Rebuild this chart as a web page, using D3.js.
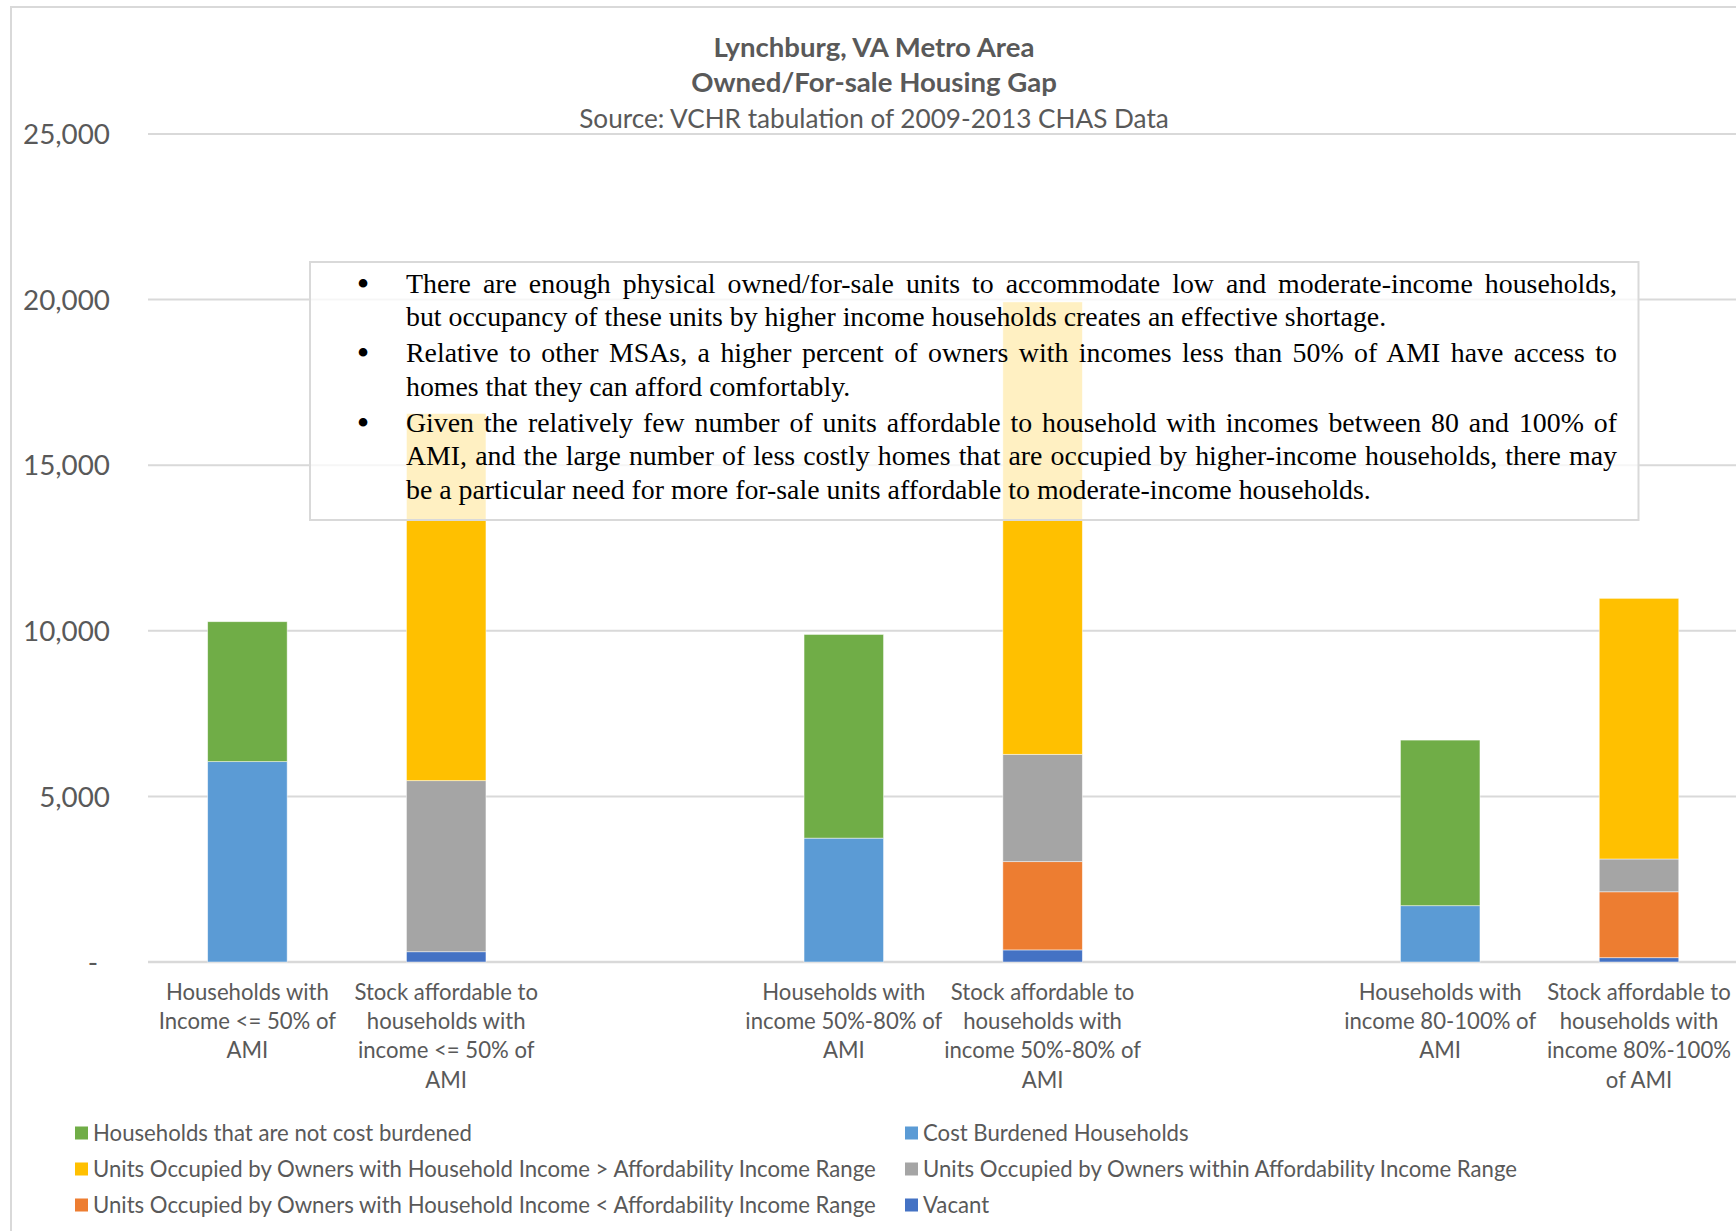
<!DOCTYPE html>
<html><head><meta charset="utf-8">
<script src="https://cdn.jsdelivr.net/npm/d3@7"></script>
<style>html,body{margin:0;padding:0;background:#fff;overflow:hidden}</style>
</head><body>
<svg id="chart" width="1736" height="1231"></svg>
<script>
// ---------------- DATA ----------------
const titleLines = ["Lynchburg, VA Metro Area", "Owned/For-sale Housing Gap"];
const subtitle = "Source: VCHR tabulation of 2009-2013 CHAS Data";

// 9 category slots (blank slots act as spacers, as in the original chart)
const categories = ["hh50", "stock50", "gap1", "hh80", "stock80", "gap2", "hh100", "stock100", "gap3"];
const categoryLabels = [
  ["Households with", "Income <= 50% of", "AMI"],
  ["Stock affordable to", "households with", "income <= 50% of", "AMI"],
  [],
  ["Households with", "income 50%-80% of", "AMI"],
  ["Stock affordable to", "households with", "income 50%-80% of", "AMI"],
  [],
  ["Households with", "income 80-100% of", "AMI"],
  ["Stock affordable to", "households with", "income 80%-100%", "of AMI"],
  []
];

const yTicks = [0, 5000, 10000, 15000, 20000, 25000];
const yTickLabels = ["-", "5,000", "10,000", "15,000", "20,000", "25,000"];

const notCostBurdened = [4225, 0, 0, 6150, 0, 0, 5000, 0, 0];
const costBurdened    = [6050, 0, 0, 3740, 0, 0, 1700, 0, 0];
const unitsAbove      = [0, 11086, 0, 0, 13660, 0, 0, 7870, 0];
const unitsWithin     = [0, 5165, 0, 0, 3240, 0, 0, 990, 0];
const unitsBelow      = [0, 0, 0, 0, 2665, 0, 0, 1990, 0];
const vacant          = [0, 310, 0, 0, 365, 0, 0, 130, 0];

// legend order (as shown)
const seriesNames = [
  "Households that are not cost burdened",
  "Cost Burdened Households",
  "Units Occupied by Owners with Household Income > Affordability Income Range",
  "Units Occupied by Owners within Affordability Income Range",
  "Units Occupied by Owners with Household Income < Affordability Income Range",
  "Vacant"
];
const seriesColors = ["#70AD47", "#5B9BD5", "#FFC000", "#A5A5A5", "#ED7D31", "#4472C4"];
const seriesValues = [notCostBurdened, costBurdened, unitsAbove, unitsWithin, unitsBelow, vacant];
// stacking order bottom -> top
const stackOrder = [1, 0, 5, 4, 3, 2];

const noteParagraphs = [
  ["There are enough physical owned/for-sale units to accommodate low and moderate-income households,",
   "but occupancy of these units by higher income households creates an effective shortage."],
  ["Relative to other MSAs, a higher percent of owners with incomes less than 50% of AMI have access to",
   "homes that they can afford comfortably."],
  ["Given the relatively few number of units affordable to household with incomes between 80 and 100% of",
   "AMI, and the large number of less costly homes that are occupied by higher-income households, there may",
   "be a particular need for more for-sale units affordable to moderate-income households."]
];

// ---------------- LAYOUT ----------------
const svg = d3.select("#chart");
const textColor = "#595959";
const gridColor = "#D9D9D9";
const sans = "Lato, 'Open Sans', 'Liberation Sans', sans-serif";
const serif = "'Liberation Serif', 'DejaVu Serif', serif";

const plotLeft = 148, slotW = 198.8;
const x = d3.scaleBand().domain(categories)
  .range([plotLeft, plotLeft + slotW * categories.length])
  .paddingInner(0.6).paddingOuter(0.3);
const y = d3.scaleLinear().domain([0, 25000]).range([962, 134]);

// chart area border
svg.append("rect").attr("x", 11).attr("y", 7).attr("width", 2000).attr("height", 2000)
  .attr("fill", "none").attr("stroke", gridColor).attr("stroke-width", 2);

// fit helper: returns font size so that text's width equals target
function fitSize(str, family, weight, target, base) {
  const t = svg.append("text").attr("font-family", family).attr("font-weight", weight)
    .attr("font-size", base).text(str);
  const w = t.node().getComputedTextLength();
  t.remove();
  return base * target / w;
}

// title
const titleSize = fitSize(titleLines[0], sans, "bold", 321, 24);
const subSize = fitSize(subtitle, sans, "normal", 590, 24);
const titleX = 874;
svg.append("text").attr("x", titleX).attr("y", 56.5).attr("text-anchor", "middle")
  .attr("font-family", sans).attr("font-weight", "bold").attr("font-size", titleSize)
  .attr("fill", textColor).text(titleLines[0]);
svg.append("text").attr("x", titleX).attr("y", 92).attr("text-anchor", "middle")
  .attr("font-family", sans).attr("font-weight", "bold").attr("font-size", titleSize)
  .attr("fill", textColor).text(titleLines[1]);
svg.append("text").attr("x", titleX).attr("y", 127.5).attr("text-anchor", "middle")
  .attr("font-family", sans).attr("font-size", subSize)
  .attr("fill", textColor).text(subtitle);

// gridlines
const gridG = svg.append("g");
yTicks.forEach((t) => {
  gridG.append("line").attr("x1", plotLeft).attr("x2", 1736 + 10)
    .attr("y1", y(t)).attr("y2", y(t))
    .attr("stroke", gridColor).attr("stroke-width", t === 0 ? 2.6 : 2);
});

// y axis labels
const yTickSize = fitSize("25,000", sans, "normal", 87, 28);
const yAxis = d3.axisLeft(y).tickValues(yTicks)
  .tickFormat((d, i) => yTickLabels[i]).tickSize(0).tickPadding(0);
const yAxisG = svg.append("g").attr("transform", "translate(110,0)").call(yAxis);
yAxisG.select(".domain").remove();
yAxisG.selectAll("text").attr("font-family", sans).attr("font-size", yTickSize)
  .attr("fill", textColor).attr("dy", "0.35em")
  .attr("dx", (d) => d === 0 ? -12 : 0);

// stacked bars
const rows = categories.map((c, i) => {
  const r = { cat: c };
  seriesValues.forEach((arr, s) => r["s" + s] = arr[i]);
  return r;
});
const stack = d3.stack().keys(stackOrder.map(s => "s" + s));
const layers = stack(rows);
const barsG = svg.append("g");
layers.forEach(layer => {
  const sIdx = +layer.key.slice(1);
  barsG.selectAll(null).data(layer.filter(d => d[1] - d[0] > 0)).enter().append("rect")
    .attr("x", d => x(d.data.cat))
    .attr("width", x.bandwidth())
    .attr("y", d => y(d[1]))
    .attr("height", d => y(d[0]) - y(d[1]))
    .attr("fill", seriesColors[sIdx])
    .attr("stroke", "#ffffff").attr("stroke-opacity", 0.6).attr("stroke-width", 0.8);
});

// x axis category labels
const catSize = fitSize("Households with", sans, "normal", 163, 21);
const xAxisG = svg.append("g");
categories.forEach((c, i) => {
  const t = xAxisG.append("text").attr("text-anchor", "middle")
    .attr("font-family", sans).attr("font-size", catSize).attr("fill", textColor);
  categoryLabels[i].forEach((ln, k) => {
    t.append("tspan").attr("x", x(c) + x.bandwidth() / 2).attr("y", 1000 + k * 29.2).text(ln);
  });
});

// legend
const legSize = fitSize(seriesNames[2], sans, "normal", 783, 21);
const legG = svg.append("g");
const legCols = [75, 905], legRows = [1133, 1169, 1205];
seriesNames.forEach((n, i) => {
  const cx = legCols[i % 2], cy = legRows[Math.floor(i / 2)];
  legG.append("rect").attr("x", cx).attr("y", cy - 6.5).attr("width", 13).attr("height", 13)
    .attr("fill", seriesColors[i]);
  legG.append("text").attr("x", cx + 18).attr("y", cy).attr("dy", "0.35em")
    .attr("font-family", sans).attr("font-size", legSize).attr("fill", textColor).text(n);
});

// annotation box
const box = { x: 310, y: 262, w: 1328.5, h: 258 };
svg.append("rect").attr("x", box.x).attr("y", box.y).attr("width", box.w).attr("height", box.h)
  .attr("fill", "#ffffff").attr("fill-opacity", 0.76)
  .attr("stroke", gridColor).attr("stroke-width", 2);

const textLeft = 406, textRight = 1617, textW = textRight - textLeft;
let noteSize = 28.3;
// ensure the longest line fits
(function () {
  let maxW = 0;
  noteParagraphs.flat().forEach(ln => {
    const t = svg.append("text").attr("font-family", serif).attr("font-size", noteSize).text(ln);
    maxW = Math.max(maxW, t.node().getComputedTextLength());
    t.remove();
  });
  if (maxW > textW * 0.985) noteSize = noteSize * textW * 0.985 / maxW;
})();
const noteG = svg.append("g");
let yy = 292.7;
noteParagraphs.forEach((para, p) => {
  if (p > 0) yy += 36.5;
  noteG.append("text").attr("x", 363).attr("y", yy + 3).attr("text-anchor", "middle")
    .attr("font-family", serif).attr("font-size", 36).attr("fill", "#000").text("•");
  para.forEach((ln, k) => {
    if (k > 0) yy += 33.2;
    const t = noteG.append("text").attr("x", textLeft).attr("y", yy)
      .attr("font-family", serif).attr("font-size", noteSize).attr("fill", "#000").text(ln);
    if (k < para.length - 1) {
      const w = t.node().getComputedTextLength();
      const nSpaces = (ln.match(/ /g) || []).length;
      if (nSpaces > 0) t.attr("word-spacing", (textW - w) / nSpaces);
    }
  });
});
</script>
</body></html>
